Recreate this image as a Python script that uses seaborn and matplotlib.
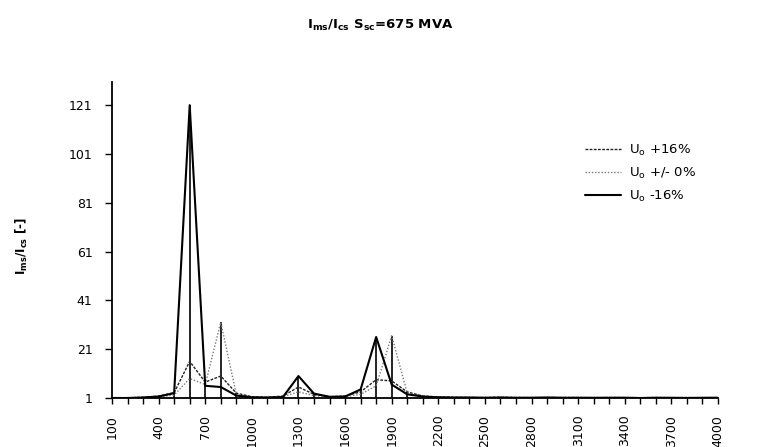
import matplotlib
matplotlib.use("Agg")
import matplotlib.pyplot as plt
import seaborn as sns
import pandas as pd
import numpy as np

# ---- data ----
freq = list(range(100, 4001, 100))
u_p16 = [1.0, 1.1, 1.3, 1.8, 3.2, 16.0, 7.5, 10.0, 3.0, 1.5,
         1.3, 1.8, 5.5, 2.5, 1.5, 1.8, 3.5, 8.5, 8.0, 3.5,
         1.8, 1.4, 1.3, 1.2, 1.2, 1.3, 1.2, 1.2, 1.2, 1.2,
         1.2, 1.1, 1.2, 1.2, 1.1, 1.2, 1.1, 1.2, 1.1, 1.2]
u_0 = [1.0, 1.1, 1.2, 1.5, 2.2, 9.0, 6.5, 32.0, 2.5, 1.4,
       1.2, 1.5, 3.5, 2.0, 1.4, 1.5, 2.5, 6.0, 26.5, 3.0,
       1.7, 1.3, 1.2, 1.2, 1.1, 1.2, 1.1, 1.1, 1.2, 1.1,
       1.1, 1.1, 1.1, 1.1, 1.1, 1.1, 1.1, 1.1, 1.1, 1.1]
u_m16 = [1.0, 1.0, 1.2, 1.6, 3.0, 121.0, 6.0, 5.5, 2.0, 1.3,
         1.2, 1.4, 10.0, 2.8, 1.5, 1.6, 4.5, 26.0, 6.5, 2.5,
         1.6, 1.3, 1.2, 1.2, 1.1, 1.2, 1.1, 1.1, 1.2, 1.1,
         1.1, 1.1, 1.1, 1.1, 1.0, 1.1, 1.1, 1.0, 1.1, 1.1]
series_labels = [r"U$_\mathrm{o}$ +16%", r"U$_\mathrm{o}$ +/- 0%", r"U$_\mathrm{o}$ -16%"]
yticks = [1, 21, 41, 61, 81, 101, 121]
title = r"I$_{ms}$/I$_{cs}$ S$_{sc}$=675 MVA"
ylabel = r"I$_{ms}$/I$_{cs}$ [-]"

# ---- style ----
sns.set_style("ticks")
plt.rcParams["font.family"] = ["DejaVu Sans"]
plt.rcParams["mathtext.default"] = "regular"
plt.rcParams["text.color"] = "black"
plt.rcParams["axes.labelcolor"] = "black"
plt.rcParams["xtick.color"] = "black"
plt.rcParams["ytick.color"] = "black"

fig = plt.figure(figsize=(7.57, 4.47), dpi=100)
ax = fig.add_axes([112/757, 1-398/447, (718-112)/757, (398-82)/447])

df = pd.DataFrame({"freq": freq * 3,
                   "val": u_p16 + u_0 + u_m16,
                   "series": [series_labels[0]]*len(freq) + [series_labels[1]]*len(freq) + [series_labels[2]]*len(freq)})

styles = {
    series_labels[0]: dict(color="#222222", lw=1.0, ls=(0, (2, 1))),
    series_labels[1]: dict(color="#7a7a7a", lw=1.0, ls=(0, (1, 1.3))),
    series_labels[2]: dict(color="black", lw=1.5, ls="-"),
}
for lab in series_labels:
    sub = df[df["series"] == lab]
    st = styles[lab]
    sns.lineplot(data=sub, x="freq", y="val", ax=ax, color=st["color"],
                 linewidth=st["lw"], linestyle=st["ls"], label=lab, legend=False)

# drop lines at each category
maxvals = np.maximum.reduce([np.array(u_p16), np.array(u_0), np.array(u_m16)])
ax.vlines(freq, 1, maxvals, color="black", lw=1.2, zorder=1)

ax.set_xlim(100, 4000)
ax.set_ylim(1, 130.5)
ax.set_xticks(freq)
ax.set_xticklabels([str(f) if (f - 100) % 300 == 0 else "" for f in freq],
                   rotation=90, fontsize=9)
ax.set_yticks(yticks)
ax.set_yticklabels([str(v) for v in yticks], fontsize=9)
ax.tick_params(axis="x", direction="out", length=4, width=1, pad=8, colors="black")
ax.tick_params(axis="y", direction="out", length=5, width=1, pad=9, colors="black")
for s in ["top", "right"]:
    ax.spines[s].set_visible(False)
for s in ["left", "bottom"]:
    ax.spines[s].set_linewidth(1.3)
    ax.spines[s].set_color("black")
ax.set_xlabel("")
ax.set_ylabel(ylabel, fontsize=8.5, fontweight="bold", color="black")
ax.yaxis.set_label_coords(-0.135, 0.48)

handles, labels = ax.get_legend_handles_labels()
leg = fig.legend(handles, labels, loc="upper left", bbox_to_anchor=(585/757, 1-143/447),
                 frameon=False, fontsize=9.5, handlelength=2.7, handletextpad=0.6,
                 labelspacing=0.6, borderpad=0, borderaxespad=0, labelcolor="black")

fig.text(380/757, 1-25/447, title, ha="center", va="center", fontsize=9.5,
         fontweight="bold", color="black")

fig.savefig("out.png", dpi=100)
